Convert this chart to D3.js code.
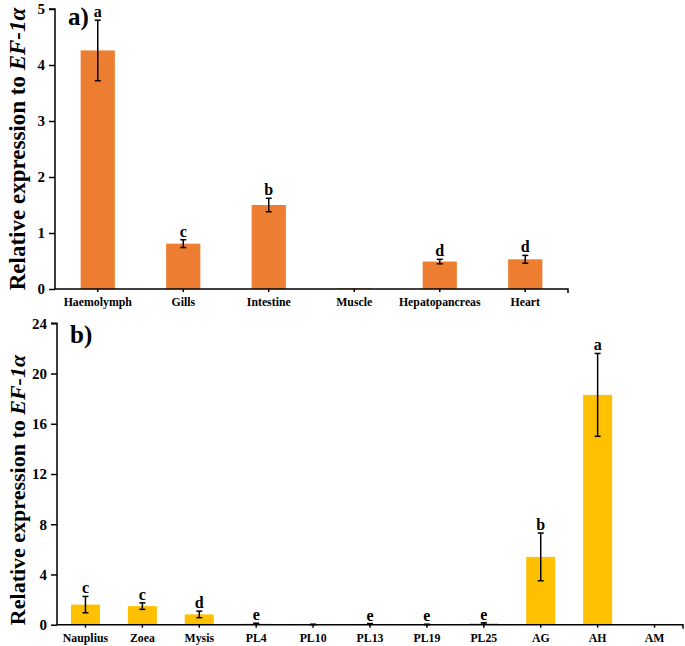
<!DOCTYPE html>
<html>
<head>
<meta charset="utf-8">
<script src="https://cdn.jsdelivr.net/npm/d3@7"></script>
<style>
  body { margin: 0; background: #fff; }
</style>
</head>
<body>
<div id="chart"></div>
<script>
const SERIF = "'Liberation Serif', 'Times New Roman', Tinos, 'DejaVu Serif', serif";

// Panel a: tissues
const tissues = ["Haemolymph", "Gills", "Intestine", "Muscle", "Hepatopancreas", "Heart"];
const tissueMean = [4.26, 0.81, 1.50, 0.01, 0.49, 0.53];
const tissueErr = [0.54, 0.07, 0.12, 0, 0.04, 0.07];
const tissueLetters = ["a", "c", "b", "", "d", "d"];
const tissueTicks = [0, 1, 2, 3, 4, 5];

// Panel b: developmental stages
const stages = ["Nauplius", "Zoea", "Mysis", "PL4", "PL10", "PL13", "PL19", "PL25", "AG", "AH", "AM"];
const stageMean = [1.6, 1.48, 0.82, 0.08, 0.02, 0.06, 0.02, 0.1, 5.4, 18.3, 0];
const stageErr = [0.65, 0.26, 0.26, 0.04, 0.02, 0.03, 0.02, 0.06, 1.9, 3.3, 0];
const stageLetters = ["c", "c", "d", "e", "", "e", "e", "e", "b", "a", ""];
const stageTicks = [0, 4, 8, 12, 16, 20, 24];

const svg = d3.select('#chart').append('svg')
  .attr('width', 685)
  .attr('height', 646)
  .style('font-family', SERIF)
  .style('font-weight', 'bold');

function drawPanel(opt) {
  const g = svg.append('g');
  const x = d3.scaleBand()
    .domain(opt.cats)
    .range([opt.left, opt.right])
    .paddingInner(opt.pad)
    .paddingOuter(opt.pad / 2);
  const y = d3.scaleLinear()
    .domain([0, opt.max])
    .range([opt.bottom, opt.top]);

  // bars
  g.selectAll('.bar')
    .data(opt.cats)
    .enter().append('rect')
    .attr('x', d => x(d))
    .attr('width', x.bandwidth())
    .attr('y', (d, i) => y(opt.mean[i]))
    .attr('height', (d, i) => opt.bottom - y(opt.mean[i]))
    .attr('fill', opt.color);

  // error bars
  opt.cats.forEach((c, i) => {
    const cx = x(c) + x.bandwidth() / 2;
    const e = opt.err[i];
    if (e <= 0) return;
    const y1 = y(opt.mean[i] + e), y2 = y(Math.max(0, opt.mean[i] - e));
    g.append('line').attr('x1', cx).attr('x2', cx).attr('y1', y1).attr('y2', y2)
      .attr('stroke', '#000').attr('stroke-width', 1.5);
    [y1, y2].forEach(yy => {
      g.append('line').attr('x1', cx - 3).attr('x2', cx + 3).attr('y1', yy).attr('y2', yy)
        .attr('stroke', '#000').attr('stroke-width', 1.5);
    });
  });

  // significance letters
  g.selectAll('.letter')
    .data(opt.cats)
    .enter().append('text')
    .attr('x', d => x(d) + x.bandwidth() / 2)
    .attr('y', (d, i) => y(opt.mean[i] + opt.err[i]) - 3)
    .attr('text-anchor', 'middle')
    .attr('font-family', SERIF)
    .attr('font-weight', 'bold')
    .attr('font-size', '16px')
    .text((d, i) => opt.letters[i]);

  // axes
  const yAxis = d3.axisLeft(y).tickValues(opt.ticks).tickFormat(d3.format('d')).tickSize(6).tickPadding(4);
  const gy = g.append('g').attr('transform', `translate(${opt.left},0)`).call(yAxis)
    .attr('font-family', SERIF).attr('font-weight', 'bold').attr('font-size', 15);
  gy.select('.domain').attr('stroke-width', 1.5).attr('d', `M-6,${opt.top}H0V${opt.bottom}`);
  gy.selectAll('.tick line').attr('stroke-width', 1.5);

  const xAxis = d3.axisBottom(x).tickSize(3).tickPadding(6);
  const gx = g.append('g').attr('transform', `translate(0,${opt.bottom})`).call(xAxis)
    .attr('font-family', SERIF).attr('font-weight', 'bold').attr('font-size', 11.8);
  gx.select('.domain').attr('stroke-width', 1.5).attr('d', `M${opt.left},0H${opt.right}V4`);
  gx.selectAll('.tick line').attr('stroke-width', 1.5);

  // y title
  const t = g.append('text')
    .attr('transform', `translate(17,${opt.titleY}) rotate(-90)`)
    .attr('text-anchor', 'middle')
    .attr('dominant-baseline', 'central')
    .attr('font-family', SERIF)
    .attr('font-weight', 'bold')
    .attr('font-size', opt.titleSize);
  t.append('tspan').text('Relative expression to ');
  t.append('tspan').attr('font-style', 'italic').text('EF-1α');

  // panel label
  g.append('text')
    .attr('x', opt.left + 13)
    .attr('y', opt.labelY)
    .attr('font-family', SERIF)
    .attr('font-weight', 'bold')
    .attr('font-size', '25px')
    .text(opt.label);
}

drawPanel({
  cats: tissues, mean: tissueMean, err: tissueErr, letters: tissueLetters,
  ticks: tissueTicks, max: 5, color: '#ED7D31',
  left: 55, right: 568, top: 9, bottom: 289, pad: 0.6,
  titleY: 149, titleSize: '23px', label: 'a)', labelY: 25
});

drawPanel({
  cats: stages, mean: stageMean, err: stageErr, letters: stageLetters,
  ticks: stageTicks, max: 24, color: '#FFC000',
  left: 57, right: 683, top: 323.3, bottom: 624.7, pad: 0.49,
  titleY: 490, titleSize: '22px', label: 'b)', labelY: 343
});
</script>
</body>
</html>
